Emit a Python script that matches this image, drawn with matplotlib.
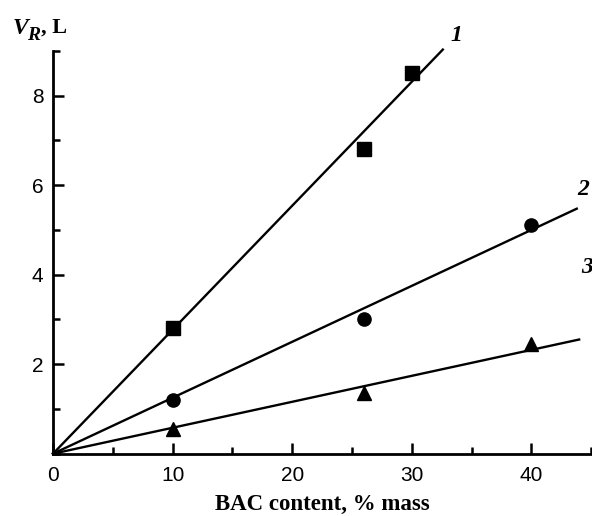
import numpy as np
import matplotlib
matplotlib.use("Agg")
import matplotlib.pyplot as plt
from matplotlib.ticker import MultipleLocator

# experimental points (BAC content, % mass -> V_R, L)
x1 = [10, 26, 30]
y1 = [2.8, 6.8, 8.5]          # squares, series 1
x2 = [10, 26, 40]
y2 = [1.2, 3.0, 5.1]          # circles, series 2
x3 = [10, 26, 40]
y3 = [0.55, 1.35, 2.45]       # triangles, series 3

# fitted straight lines through origin
slopes = [0.277, 0.125, 0.058]
line_ends = [32.6, 43.8, 44.0]
curve_labels = ["1", "2", "3"]
label_pos = [(33.7, 9.35), (44.3, 5.9), (44.7, 4.15)]

plt.rcParams['font.family'] = ['Liberation Sans', 'DejaVu Sans']

fig = plt.figure(figsize=(5.92, 5.16), dpi=100)
ax = fig.add_axes([0.0895, 0.1207, 0.909, 0.7806])

for k, (xs, ys, m) in enumerate([(x1, y1, 's'), (x2, y2, 'o'), (x3, y3, '^')]):
    xl = np.array([0, line_ends[k]])
    ax.plot(xl, slopes[k] * xl, color='black', lw=1.7, clip_on=False)
    ax.plot(xs, ys, ls='none', marker=m, color='black', ms=9.5, clip_on=False, zorder=3)
    ax.text(label_pos[k][0], label_pos[k][1], curve_labels[k], family='Liberation Serif',
            fontsize=17, fontweight='bold', fontstyle='italic', ha='center', va='center',
            clip_on=False)

ax.set_xlim(0, 45)
ax.set_ylim(0, 9)
ax.xaxis.set_major_locator(MultipleLocator(10))
ax.xaxis.set_minor_locator(MultipleLocator(5))
ax.yaxis.set_minor_locator(MultipleLocator(1))
ax.set_yticks([2, 4, 6, 8])
ax.tick_params(which='both', direction='in', width=1.8, labelsize=15)
ax.tick_params(which='major', length=8)
ax.tick_params(which='minor', length=5)
ax.tick_params(axis='y', which='major', pad=7)
ax.tick_params(axis='x', which='major', pad=9)
ax.spines['top'].set_visible(False)
ax.spines['right'].set_visible(False)
for s in ['left', 'bottom']:
    ax.spines[s].set_linewidth(2)

ax.set_xlabel("BAC content, % mass", family='Liberation Serif', fontsize=16.5,
              fontweight='bold', labelpad=6)

# axis title V_R, L at top left
fig.text(13 / 592, 1 - 28 / 516, "V", family='Liberation Serif', fontsize=17,
         fontweight='bold', fontstyle='italic', ha='left', va='center')
fig.text(27 / 592, 1 - 35 / 516, "R", family='Liberation Serif', fontsize=14,
         fontweight='bold', fontstyle='italic', ha='left', va='center')
fig.text(41 / 592, 1 - 28 / 516, ", L", family='Liberation Serif', fontsize=16,
         fontweight='bold', ha='left', va='center')

fig.savefig("out.png", dpi=100)
